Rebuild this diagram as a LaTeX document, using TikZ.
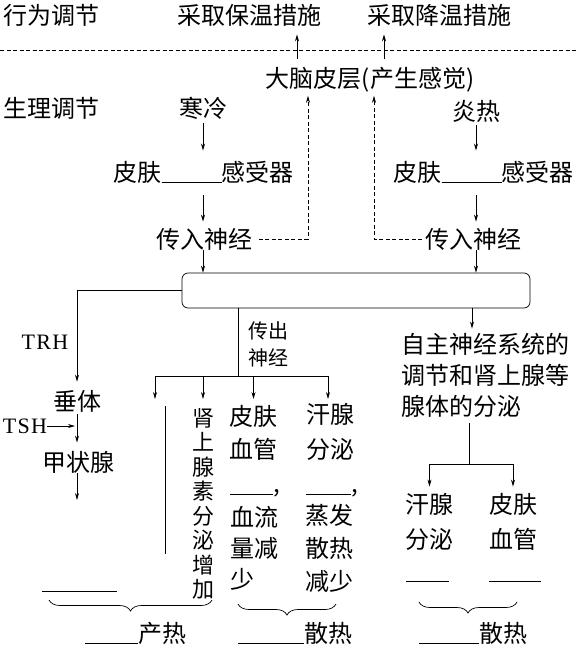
\documentclass[tikz,border=0pt]{standalone}
\usepackage{fontspec}
\newfontfamily\cjk{Noto Sans CJK SC}
\newfontfamily\latn[LetterSpace=6]{Liberation Serif}
\usetikzlibrary{arrows.meta,decorations.pathreplacing}
\newcommand{\fillin}[1]{\rule[-2pt]{#1pt}{0.7pt}}

\begin{document}
\begin{tikzpicture}[x=1pt, y=-1pt, line width=0.7pt,
    zh/.style={font=\cjk\fontsize{24}{31}\selectfont, inner sep=0pt, align=left},
    zhs/.style={font=\cjk\fontsize{20}{27}\selectfont, inner sep=0pt, align=left},
    en/.style={font=\latn\fontsize{22}{24}\selectfont, inner sep=0pt},
    arr/.style={-{Stealth[length=7pt,width=4pt]}},
    dsh/.style={dash pattern=on 4pt off 2.5pt},
    gap/.style={zh, anchor=base west},
    brc/.style={decorate, decoration={brace, mirror, amplitude=11pt}}]
    \useasboundingbox (0,0) rectangle (578,648);

    % behaviour row
    \node[zh, anchor=west] (behav) at (3,15) {行为调节};
    \node[zh] (warm) at (249.5,15) {采取保温措施};
    \node[zh] (cool) at (439.5,15) {采取降温措施};
    \draw[dsh] (0,50) -- (578,50);

    \node[zh] (cortex) at (370,80) {大脑皮层(产生感觉)};
    \coordinate (upL) at (297,0);
    \coordinate (upR) at (384,0);
    \draw[arr, shorten <=8pt, shorten >=8pt] (cortex.north -| upL) -- (warm.south -| upL);
    \draw[arr, shorten <=8pt, shorten >=8pt] (cortex.north -| upR) -- (cool.south -| upR);

    % physiological row
    \node[zh, anchor=west] (physio) at (3,108) {生理调节};
    \node[zh] (cold) at (203,108) {寒冷};
    \node[zh] (hot) at (476,111) {炎热};

    \node[zh] (skinL) at (203.5,172) {皮肤\fillin{60}感受器};
    \node[zh] (skinR) at (483.5,172) {皮肤\fillin{60}感受器};
    \node[zh] (affL) at (204.5,239) {传入神经};
    \node[zh] (affR) at (473.5,239) {传入神经};
    \node[draw, rounded corners=6pt, minimum width=348pt, minimum height=35pt] (hub) at (356,290.5) {};

    \draw[arr, shorten <=3pt, shorten >=10pt] (cold.south) -- (cold.south |- skinL.north);
    \draw[arr, shorten <=12pt, shorten >=6pt] (cold.south |- skinL.south) -- (cold.south |- affL.north);
    \draw[arr] (cold.south |- affL.south) -- (cold.south |- hub.north);
    \draw[arr, shorten <=3pt, shorten >=10pt] (hot.south) -- (hot.south |- skinR.north);
    \draw[arr, shorten <=12pt, shorten >=6pt] (hot.south |- skinR.south) -- (hot.south |- affR.north);
    \draw[arr] (hot.south |- affR.south) -- (hot.south |- hub.north);

    \coordinate (dL) at (308,0);
    \coordinate (dR) at (374,0);
    \draw[dsh, arr, shorten <=6pt, shorten >=3pt] (affL.east) -| (cortex.south -| dL);
    \draw[dsh, arr, shorten <=3pt, shorten >=3pt] (affR.west) -| (cortex.south -| dR);

    % hormone branch
    \node[zh] (pit) at (77,401) {垂体};
    \node[zh] (thy) at (78,462) {甲状腺};
    \node[en] (trh) at (45,342) {TRH};
    \node[en] (tsh) at (25,426) {TSH};
    \draw[arr, shorten >=8pt] (hub.west) -| (pit.north);
    \draw[arr, shorten >=2pt] (tsh.east) -- (tsh.east -| pit.south);
    \draw[arr, shorten <=2pt, shorten >=8pt] (pit.south) -- (pit.south |- thy.north);
    \coordinate (thyEnd) at (77,500);
    \draw[arr] (pit.south |- thy.south) -- (thyEnd);
    \node[gap] (bkA) at (42,589.5) {\fillin{75}};

    % efferent nerve branch
    \node[zhs] (effLbl) at (268,344.5) {传出\\神经};
    \coordinate (bar) at (238,376);
    \coordinate (barL) at (155,376);
    \coordinate (barR) at (328,376);
    \draw (hub.south -| bar) -- (bar);
    \draw (barL) -- (barR);

    \node[zh, font=\cjk\fontsize{22}{24.5}\selectfont, align=center] (adr) at (203,504) {肾\\上\\腺\\素\\分\\泌\\增\\加};
    \node[zh] (vesL) at (253.5,432.5) {皮肤\\[2pt]血管};
    \node[zh] (sweatM) at (330,431.5) {汗腺\\[4pt]分泌};
    \node[gap] (bkB) at (230,492.5) {\fillin{43},};
    \node[gap] (bkC) at (306,492.5) {\fillin{45},};
    \node[zh] (flowL) at (254,548) {血流\\量减\\少};
    \node[zh] (evapM) at (329,548.5) {蒸发\\[2pt]散热\\[2pt]减少};

    \draw[arr] (barL) -- ++(0,23);
    \draw[arr] (adr.north |- barL) -- ++(0,23);
    \draw[arr] (vesL.north |- barL) -- ++(0,23);
    \draw[arr] (barR) -- ++(0,23);
    \draw (165,406) -- (165,554);

    % autonomic branch
    \node[zh, anchor=west] (auto) at (401,375) {自主神经系统的\\调节和肾上腺等\\腺体的分泌};
    \coordinate (hubR) at (472,0);
    \draw[arr, shorten >=4pt] (hub.south -| hubR) -- (auto.north -| hubR);
    \node[zh] (sweatR) at (429.5,521.5) {汗腺\\[4pt]分泌};
    \node[zh] (vesR) at (513,521.5) {皮肤\\[4pt]血管};
    \coordinate (split) at (469,464);
    \draw[shorten <=6pt] (auto.south -| split) -- (split);
    \draw[arr, shorten >=6pt] (split) -| (sweatR.north);
    \draw[arr, shorten >=6pt] (split) -| (vesR.north);
    \node[gap] (bkD) at (406,579.5) {\fillin{43}};
    \node[gap] (bkE) at (489,579.5) {\fillin{52}};

    % totals
    \draw[brc] (49,600) -- (212,600);
    \draw[brc] (238,604) -- (336,604);
    \draw[brc] (419,602) -- (517,602);
    \node[gap] (heatL) at (85,642) {\fillin{53}产热};
    \node[gap] (heatM) at (238,642) {\fillin{66}散热};
    \node[gap] (heatR) at (419,642) {\fillin{60}散热};
\end{tikzpicture}
\end{document}
